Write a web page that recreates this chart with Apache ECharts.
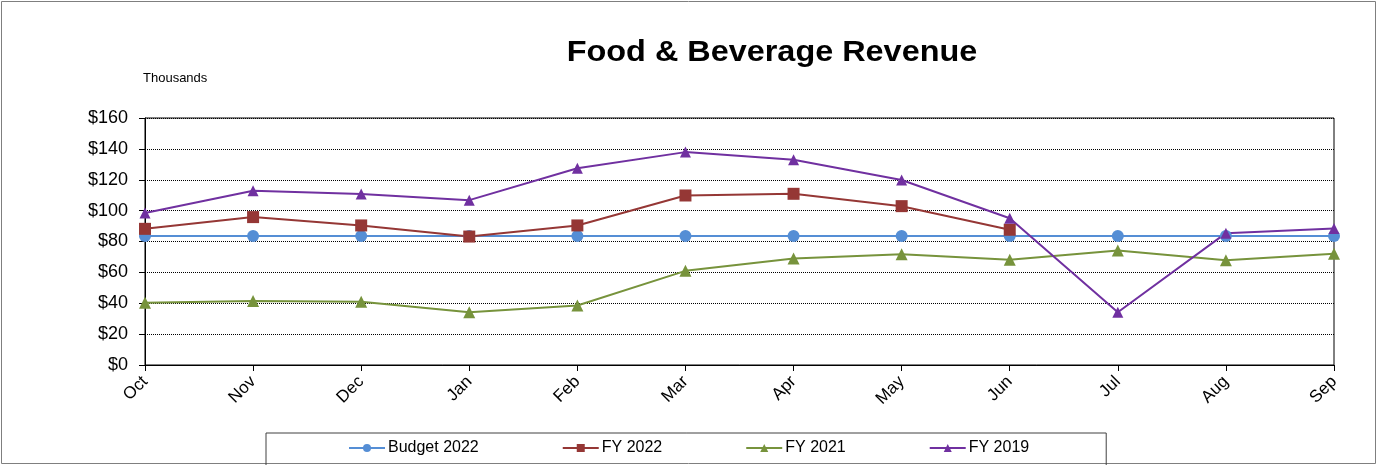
<!DOCTYPE html>
<html>
<head>
<meta charset="utf-8">
<script src="https://cdn.jsdelivr.net/npm/echarts@6/dist/echarts.min.js"></script>
<style>
  html, body { margin: 0; padding: 0; background: #fff; }
  #chart { width: 1377px; height: 465px; }
</style>
</head>
<body>
<div id="chart"></div>
<script>
// Monthly food & beverage revenue, in thousands of dollars (fiscal year Oct–Sep)
const months = ['Oct', 'Nov', 'Dec', 'Jan', 'Feb', 'Mar', 'Apr', 'May', 'Jun', 'Jul', 'Aug', 'Sep'];
const budget2022 = [83.5, 83.5, 83.5, 83.5, 83.5, 83.5, 83.5, 83.5, 83.5, 83.5, 83.5, 83.5];
const fy2022 = [88.2, 95.8, 90.4, 83.2, 90.4, 109.8, 110.9, 102.9, 87.6, null, null, null];
const fy2021 = [40.4, 41.5, 40.9, 34.2, 38.5, 61.0, 69.0, 71.8, 68.1, 74.2, 67.9, 72.0];
const fy2019 = [98.4, 112.9, 110.7, 106.8, 127.4, 137.9, 133.0, 119.8, 95.1, 34.2, 85.4, 88.4];
const yTicks = { min: 0, max: 160, interval: 20 };

const FONT = 'Liberation Sans, Arial, sans-serif';

function lineSeries(name, data, color, symbol, size) {
  return {
    name: name,
    type: 'line',
    data: data,
    symbol: symbol,
    symbolSize: size,
    showAllSymbol: true,
    connectNulls: false,
    lineStyle: { color: color, width: 2 },
    itemStyle: { color: color },
    emphasis: { disabled: true },
    animation: false
  };
}

const chart = echarts.init(document.getElementById('chart'));
chart.setOption({
  backgroundColor: '#fff',
  animation: false,
  graphic: [
    {
      type: 'rect',
      shape: { x: 1.5, y: 1.5, width: 1374, height: 462 },
      style: { fill: 'none', stroke: '#7f7f7f', lineWidth: 1 },
      z: -10
    },
    {
      // chart title, set in a slightly widened bold face
      type: 'text',
      x: 772,
      y: 53,
      scaleX: 1.08,
      style: {
        text: 'Food & Beverage Revenue',
        fontFamily: FONT,
        fontSize: 30,
        fontWeight: 'bold',
        fill: '#000',
        align: 'center',
        verticalAlign: 'middle'
      }
    },
    {
      type: 'text',
      left: 143,
      top: 72,
      style: { text: 'Thousands', fontFamily: FONT, fontSize: 13, fill: '#000' }
    }
  ],
  legend: {
    left: 266,
    top: 433,
    padding: [7, 77, 12, 82],
    itemGap: 83,
    itemWidth: 36,
    itemHeight: 10,
    borderColor: '#404040',
    borderWidth: 1,
    textStyle: { fontFamily: FONT, fontSize: 16, color: '#000', padding: [0, 0, 0, -2] },
    data: ['Budget 2022', 'FY 2022', 'FY 2021', 'FY 2019']
  },
  grid: {
    left: 145,
    right: 43,
    top: 118,
    bottom: 100,
    show: true,
    borderColor: '#000',
    borderWidth: 1,
    backgroundColor: 'transparent'
  },
  xAxis: {
    type: 'category',
    data: months,
    boundaryGap: false,
    axisLine: { lineStyle: { color: '#000', width: 1 } },
    axisTick: { alignWithLabel: true, length: 6, lineStyle: { color: '#000' } },
    axisLabel: {
      rotate: 45,
      fontFamily: FONT,
      fontSize: 17,
      color: '#000',
      margin: 14,
      interval: 0
    },
    splitLine: { show: false }
  },
  yAxis: {
    type: 'value',
    min: yTicks.min,
    max: yTicks.max,
    interval: yTicks.interval,
    axisLine: { show: true, lineStyle: { color: '#000', width: 1 } },
    axisTick: { show: true, length: 6, lineStyle: { color: '#000' } },
    axisLabel: {
      formatter: '${value}',
      fontFamily: FONT,
      fontSize: 18,
      color: '#000',
      margin: 17
    },
    splitLine: { show: true, lineStyle: { color: '#000', type: [1, 1], width: 1 } }
  },
  series: [
    lineSeries('Budget 2022', budget2022, '#558ED5', 'circle', 12),
    lineSeries('FY 2022', fy2022, '#953735', 'rect', 12),
    lineSeries('FY 2021', fy2021, '#77933C', 'triangle', 12),
    lineSeries('FY 2019', fy2019, '#7030A0', 'triangle', 11)
  ]
});
</script>
</body>
</html>
